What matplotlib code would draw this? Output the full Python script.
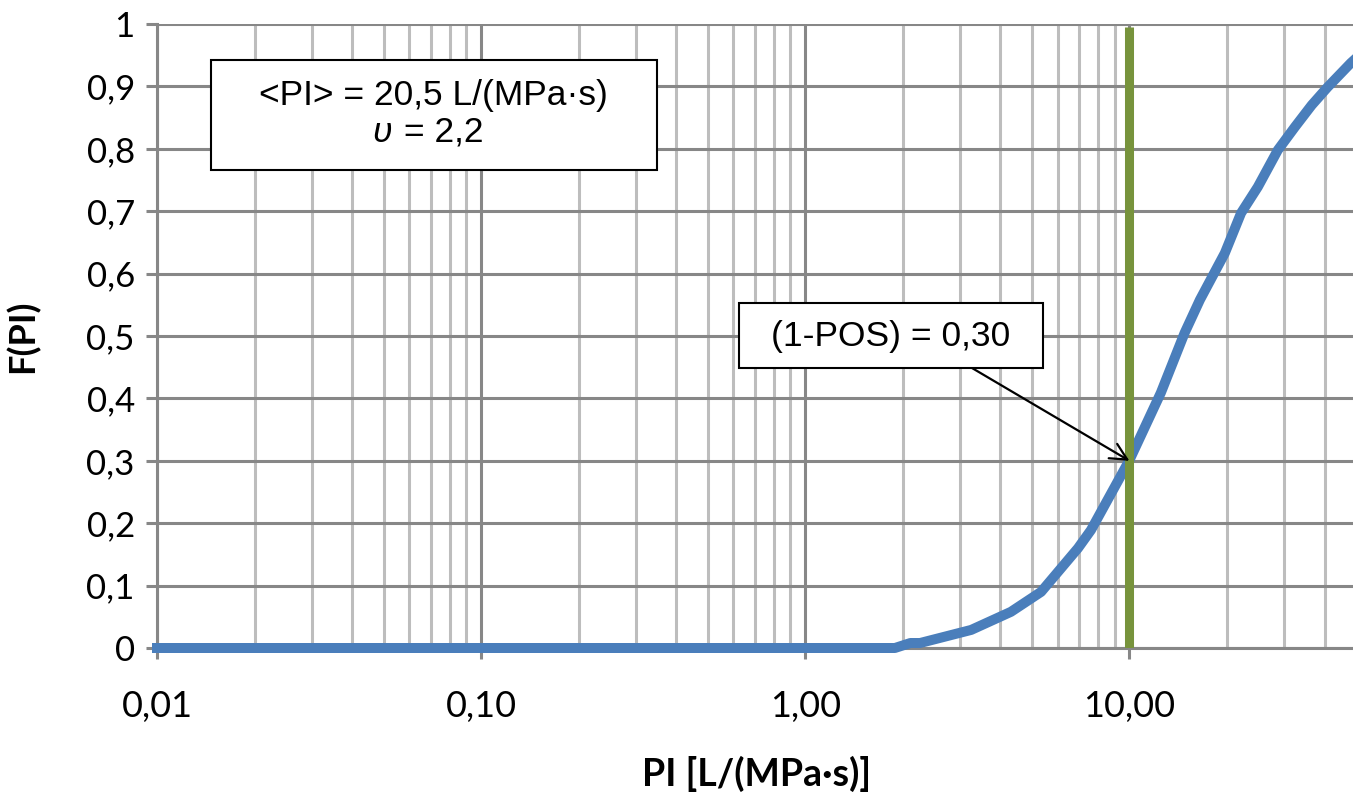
import matplotlib
matplotlib.use("Agg")
import matplotlib.pyplot as plt
from matplotlib.ticker import FixedLocator, LogLocator, NullFormatter
from matplotlib.patches import Rectangle

# ---- data ----
pi_values = [0.01, 1.89, 2.11, 2.26, 3.25, 4.31, 5.34, 6.94, 7.61, 10.0,
             12.5, 14.8, 16.5, 19.7, 22.1, 24.9, 28.7, 32.4, 36.5, 40.9, 48.2, 50.0]
f_values = [0.0, 0.0, 0.008, 0.008, 0.029, 0.058, 0.090, 0.160, 0.189, 0.301,
            0.409, 0.505, 0.558, 0.633, 0.697, 0.739, 0.798, 0.835, 0.870, 0.899, 0.9375, 0.945]
pos_x = [10, 10]
pos_y = [0, 0.995]
x_ticks = [0.01, 0.1, 1, 10]
x_ticklabels = ["0,01", "0,10", "1,00", "10,00"]
y_ticks = [0, 0.1, 0.2, 0.3, 0.4, 0.5, 0.6, 0.7, 0.8, 0.9, 1.0]
y_ticklabels = ["0", "0,1", "0,2", "0,3", "0,4", "0,5", "0,6", "0,7", "0,8", "0,9", "1"]
box1_line1 = "<PI> = 20,5 L/(MPa·s)"
box1_line2_sym = "υ"
box1_line2_rest = " = 2,2"
box2_text = "(1-POS) = 0,30"
arrow_target = (10, 0.30)

W, H = 1353, 792
fig = plt.figure(figsize=(W / 100, H / 100), dpi=100)
ax_left, ax_bottom = 157 / W, (H - 648) / H
ax_w, ax_h = (1356 - 157) / W, (648 - 24) / H
ax = fig.add_axes([ax_left, ax_bottom, ax_w, ax_h])
ax.set_xscale("log")
ax.set_xlim(0.01, 50)
ax.set_ylim(0, 1)

major_grid = "#878787"
minor_grid = "#bdbdbd"
ax.xaxis.set_major_locator(FixedLocator(x_ticks))
ax.xaxis.set_minor_locator(LogLocator(base=10, subs=range(2, 10)))
ax.xaxis.set_minor_formatter(NullFormatter())
ax.set_xticklabels(x_ticklabels)
ax.set_yticks(y_ticks)
ax.set_yticklabels(y_ticklabels)
ax.grid(True, which="major", axis="both", color=major_grid, lw=2.2, zorder=0)
ax.grid(True, which="minor", axis="x", color=minor_grid, lw=2.2, zorder=0)
ax.set_axisbelow(True)

for s in ["top", "right"]:
    ax.spines[s].set_visible(False)
for s in ["left", "bottom"]:
    ax.spines[s].set_color(major_grid)
    ax.spines[s].set_linewidth(2.2)

tick_font = "Lato"
ax.tick_params(axis="both", which="major", length=8, width=2.2, color=major_grid, pad=8)
ax.tick_params(axis="y", which="major", labelsize=25)
ax.tick_params(axis="x", which="major", labelsize=26, pad=22)
ax.tick_params(axis="x", which="minor", length=0)
for lab in ax.get_xticklabels() + ax.get_yticklabels():
    lab.set_fontfamily(tick_font)

ax.set_xlabel("PI [L/(MPa·s)]", fontsize=27, fontweight="bold", fontfamily=tick_font, labelpad=24)
ax.set_ylabel("F(PI)", fontsize=26, fontweight="bold", fontfamily=tick_font, labelpad=34)

ax.plot(pi_values, f_values, color="#4A7EBB", lw=7.2, solid_joinstyle="round", zorder=3,
        clip_on=False)
ax.plot(pos_x, pos_y, color="#77933C", lw=6.5, zorder=4, solid_capstyle="butt")

# text boxes (figure pixel coordinates -> fraction)
def fx(px):
    return px / W

def fy(py):
    return 1 - py / H

box_font = "Liberation Sans"
fig.patches.append(Rectangle((fx(211), fy(170)), fx(657) - fx(211), fy(60) - fy(170),
                             transform=fig.transFigure, facecolor="white",
                             edgecolor="black", lw=1.5, zorder=5))
fig.text(fx(433), fy(96), box1_line1, ha="center", va="center", fontsize=25.5,
         fontfamily=box_font, zorder=6)
fig.text(fx(372), fy(132), box1_line2_sym, ha="left", va="center", fontsize=25.5,
         fontfamily=box_font, style="italic", zorder=6)
fig.text(fx(394), fy(132), box1_line2_rest, ha="left", va="center", fontsize=25.5,
         fontfamily=box_font, zorder=6)

fig.patches.append(Rectangle((fx(739), fy(368)), fx(1043) - fx(739), fy(303) - fy(368),
                             transform=fig.transFigure, facecolor="white",
                             edgecolor="black", lw=1.5, zorder=5))
fig.text(fx(891), fy(336), box2_text, ha="center", va="center", fontsize=25.5,
         fontfamily=box_font, zorder=6)

ax.annotate("", xy=arrow_target, xycoords="data",
            xytext=(fx(972), fy(368)), textcoords="figure fraction",
            arrowprops=dict(arrowstyle="->", color="black", lw=1.6,
                            mutation_scale=30, shrinkA=0, shrinkB=0), zorder=6)

fig.savefig("out.png", dpi=100)
